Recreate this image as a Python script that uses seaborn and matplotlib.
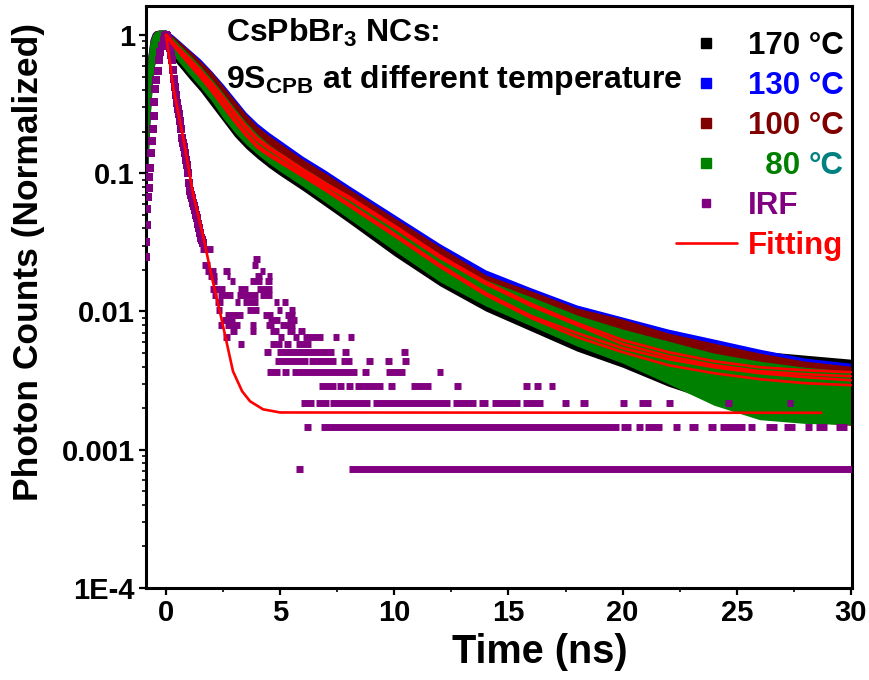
import matplotlib
matplotlib.use("Agg")
import matplotlib.pyplot as plt
import numpy as np
import pandas as pd
import seaborn as sns
from matplotlib.lines import Line2D
from matplotlib.ticker import FixedLocator, FixedFormatter, LogLocator, NullFormatter, MultipleLocator

# ---------------- data ----------------
# time knots (ns) for the measured decay bands
t_data = [-0.9, -0.8, -0.7, -0.6, -0.5, -0.3, 0.0, 0.3, 0.6, 1.0, 1.5, 2.0, 2.5, 3.0, 3.5,
          4, 4.5, 5, 6, 7, 8, 10, 12, 14, 16, 18, 20, 22, 24, 26, 28, 30]

# 170 °C : upper / lower edge of the scatter band
c170_upper = [0.276, 0.637, 0.860, 0.983, 1.034, 1.069, 1.069, 0.935, 0.818, 0.692, 0.567, 0.456,
              0.361, 0.281, 0.2185, 0.1788, 0.1538, 0.1345, 0.1047, 0.0829, 0.0656, 0.0404,
              0.0240, 0.01583, 0.01191, 0.00882, 0.00722, 0.00653, 0.00590, 0.00517, 0.00483,
              0.00452]
c170_lower = [0.0454, 0.1083, 0.2497, 0.434, 0.606, 0.778, 0.860, 0.670, 0.586, 0.487, 0.392, 0.305,
              0.2375, 0.1848, 0.1512, 0.128, 0.1101, 0.0963, 0.0749, 0.0574, 0.0439, 0.0253,
              0.01531, 0.01008, 0.00722, 0.00517, 0.00395, 0.00288, 0.00224, 0.00195, 0.00190,
              0.00183]
# 130 °C
c130_upper = [0.310, 0.704, 0.935, 1.034, 1.069, 1.087, 1.087, 1.0, 0.905, 0.791, 0.670, 0.548,
              0.441, 0.349, 0.276, 0.2297, 0.1976, 0.1729, 0.1323, 0.1047, 0.0815, 0.0502,
              0.0309, 0.0200, 0.01481, 0.01114, 0.00912, 0.00746, 0.00632, 0.00534, 0.0046,
              0.00423]
c130_lower = [0.0519, 0.1197, 0.276, 0.471, 0.658, 0.832, 0.889, 0.740, 0.658, 0.557, 0.456, 0.367,
              0.290, 0.2259, 0.1788, 0.1463, 0.1258, 0.1101, 0.0857, 0.0678, 0.0537, 0.0325,
              0.01935, 0.01253, 0.00897, 0.00642, 0.00500, 0.00358, 0.00250, 0.00200, 0.00185,
              0.00175]
# 100 °C
c100_upper = [0.310, 0.692, 0.920, 1.017, 1.069, 1.087, 1.087, 0.983, 0.889, 0.778, 0.648, 0.539,
              0.426, 0.337, 0.267, 0.2185, 0.1879, 0.1644, 0.1258, 0.0996, 0.0775, 0.0477,
              0.0294, 0.0184, 0.01409, 0.01060, 0.00882, 0.00698, 0.00590, 0.00500, 0.00437,
              0.00402]
c100_lower = [0.0537, 0.1238, 0.285, 0.471, 0.658, 0.832, 0.889, 0.728, 0.637, 0.539, 0.441, 0.355,
              0.281, 0.2185, 0.1758, 0.1463, 0.1258, 0.1101, 0.0857, 0.0656, 0.0510, 0.0309,
              0.0184, 0.01191, 0.00853, 0.00611, 0.00475, 0.00340, 0.00235, 0.00185, 0.00160,
              0.00150]
# 80 °C
c80_upper = [0.285, 0.658, 0.889, 1.0, 1.051, 1.087, 1.087, 0.951, 0.846, 0.728, 0.596, 0.479,
             0.379, 0.295, 0.2335, 0.1911, 0.1617, 0.1415, 0.1101, 0.0871, 0.0689, 0.0425,
             0.0253, 0.01693, 0.01274, 0.00943, 0.00746, 0.00611, 0.00500, 0.00437, 0.00395,
             0.00370]
c80_lower = [0.0493, 0.1138, 0.2625, 0.456, 0.637, 0.804, 0.889, 0.716, 0.626, 0.521, 0.419, 0.332,
             0.2497, 0.1976, 0.1617, 0.1368, 0.1177, 0.1029, 0.0801, 0.0613, 0.0469, 0.0275,
             0.01638, 0.01096, 0.00785, 0.00562, 0.00423, 0.00300, 0.00210, 0.00165, 0.00155,
             0.00152]

# fitted decay curves
fit_t = [0, 0.3, 0.6, 1.0, 1.5, 2.0, 2.5, 3.0, 3.5, 4, 4.5, 5, 6, 7, 8, 10, 12, 14, 16, 18, 20,
         22, 24, 26, 28, 30]
fit_130 = [1.0, 0.889, 0.791, 0.681, 0.557, 0.448, 0.355, 0.276, 0.2185, 0.1788, 0.155, 0.1368,
           0.1065, 0.0842, 0.0678, 0.0418, 0.0253, 0.01638, 0.01133, 0.00825, 0.00621, 0.00508,
           0.00437, 0.00395, 0.00376, 0.00364]
fit_100 = [1.0, 0.860, 0.765, 0.658, 0.539, 0.434, 0.343, 0.267, 0.2113, 0.1729, 0.150, 0.1323,
           0.1029, 0.0815, 0.0656, 0.0404, 0.02445, 0.01585, 0.01096, 0.00798, 0.00581, 0.00475,
           0.00409, 0.0037, 0.00352, 0.0034]
fit_80 = [1.0, 0.875, 0.765, 0.637, 0.512, 0.406, 0.316, 0.2455, 0.1943, 0.159, 0.139, 0.1238,
          0.0979, 0.0775, 0.0603, 0.0365, 0.02176, 0.01362, 0.00927, 0.00698, 0.00543, 0.00452,
          0.00395, 0.00358, 0.00335, 0.00318]
fit_170 = [1.0, 0.846, 0.740, 0.616, 0.496, 0.392, 0.305, 0.2375, 0.1879, 0.1538, 0.1345, 0.1197,
           0.0947, 0.0749, 0.0583, 0.0353, 0.02104, 0.01317, 0.00897, 0.00653, 0.00508, 0.00409,
           0.00358, 0.00324, 0.00303, 0.00293]
irf_fit_t = [0, 0.31, 0.745, 1.18, 1.62, 2.01, 2.37, 2.67, 2.93, 3.33, 3.68, 4.25, 5.0, 28.7]
irf_fit_v = [1.0, 0.42, 0.182, 0.0713, 0.0353, 0.0175, 0.00975, 0.0058, 0.0037, 0.00265, 0.00224,
             0.00196, 0.00186, 0.00185]

# IRF: photon counts, normalised by the peak count
irf_norm = 1374
irf_peak_t = [-0.88, -0.86, -0.84, -0.82, -0.80, -0.77, -0.73, -0.70, -0.66, -0.62, -0.58, -0.55,
              -0.51, -0.47, -0.42, -0.37, -0.32, -0.25, -0.18, -0.10, -0.04, 0.00, 0.05, 0.09,
              0.14, 0.18, 0.22, 0.26, 0.31, 0.35, 0.39, 0.44, 0.48, 0.53, 0.57, 0.61, 0.66, 0.70,
              0.75, 0.79, 0.83, 0.88, 0.92, 0.96, 1.01, 1.05, 1.10, 1.14, 1.18, 1.23, 1.27, 1.32,
              1.36, 1.40, 1.45, 1.49, 1.53, 1.58, 1.62]
irf_peak_counts = [34, 44, 58, 76, 93, 108, 130, 151, 192, 236, 289, 357, 453, 563, 646, 756, 907,
                   1030, 1140, 1264, 1346, 1374, 1360, 1305, 1209, 1099, 989, 907, 769, 660, 577,
                   508, 440, 398, 371, 330, 289, 247, 227, 213, 191, 172, 158, 137, 117, 103, 96,
                   91, 84, 80, 74, 69, 65, 59, 55, 51, 47, 45, 43]
# runs of consecutive IRF channels (start ns, end ns) sharing the same low count
irf_runs = {
    1: [(5.69, 6.00), (8.02, 30.2)],
    2: [(6.04, 6.35), (6.79, 19.84), (19.93, 20.37), (20.59, 20.89), (20.98, 21.73), (22.21, 22.51),
        (22.91, 23.30), (23.74, 24.09), (24.26, 25.36), (25.50, 25.80), (26.28, 26.76),
        (27.07, 27.55), (27.99, 28.29), (28.47, 28.95), (29.34, 29.82)],
    3: [(5.91, 6.48), (6.57, 7.14), (7.18, 8.94), (9.07, 12.44), (12.57, 13.58), (13.71, 14.10),
        (14.28, 15.51), (15.64, 16.51), (17.35, 17.65), (18.13, 18.48), (19.89, 20.19),
        (20.72, 21.24), (21.90, 22.21), (24.48, 24.79), (27.20, 27.46)],
    4: [(6.70, 7.45), (7.49, 7.80), (7.88, 8.19), (8.28, 9.50), (9.72, 10.03), (10.73, 11.61),
        (12.61, 12.92), (15.64, 15.94), (16.12, 16.43), (16.78, 17.04)],
    5: [(4.42, 4.99), (5.08, 5.39), (5.52, 8.37), (8.59, 8.89), (9.64, 10.47), (11.87, 12.15)],
    6: [(4.77, 6.22), (6.26, 7.45), (7.67, 8.15), (8.76, 9.07), (9.59, 9.90), (10.34, 10.64)],
    7: [(4.29, 4.60), (4.86, 7.36), (7.71, 8.02), (10.29, 10.60)],
    8: [(3.15, 3.42), (4.56, 5.08), (5.17, 5.48), (5.69, 6.35)],
    9: [(2.50, 2.80), (4.91, 5.17), (5.56, 5.83), (6.00, 6.88), (7.31, 7.58), (7.97, 8.23)],
    10: [(2.80, 3.11), (3.68, 3.94), (4.56, 4.95), (5.30, 5.65), (5.78, 6.09)],
    11: [(2.28, 2.50), (2.58, 3.24), (3.68, 3.94), (4.38, 4.73), (4.99, 5.65)],
    12: [(2.45, 3.02), (4.47, 4.99), (5.30, 5.74)],
    13: [(2.58, 3.37), (4.25, 4.69), (5.21, 5.65)],
    14: [(2.19, 2.45), (3.55, 4.07), (4.86, 5.08), (5.39, 5.65)],
    16: [(2.15, 2.50), (3.02, 3.24), (3.37, 4.03), (4.73, 4.95), (5.08, 5.34)],
    18: [(2.02, 2.23), (2.28, 2.93), (3.11, 4.03), (4.12, 4.64)],
    20: [(1.93, 2.58), (3.15, 3.59), (3.99, 4.64)],
    23: [(2.06, 2.23), (2.80, 3.02), (3.68, 4.20), (4.34, 4.64)],
    25: [(1.84, 2.23), (2.67, 2.80), (3.90, 4.20), (4.42, 4.64)],
    27: [(1.71, 2.19), (2.50, 2.80), (4.12, 4.34)],
    30: [(1.58, 1.93), (3.77, 4.03)],
    33: [(3.81, 4.12)],
    39: [(1.49, 2.06)],
}

series_colors = ["#000000", "#0000FF", "#800000", "#008000"]
irf_color = "#800080"
fit_color = "#FF0000"
teal = "#008080"

# ---------------- style ----------------
sns.set_theme(style="ticks")
plt.rcParams.update({
    "font.family": ["Liberation Sans", "DejaVu Sans"],
    "font.weight": "bold",
    "axes.labelweight": "bold",
    "mathtext.fontset": "custom",
    "mathtext.rm": "Liberation Sans:bold",
    "mathtext.it": "Liberation Sans:italic:bold",
    "mathtext.bf": "Liberation Sans:bold",
    "mathtext.default": "rm",
    "axes.linewidth": 2.2,
    "axes.edgecolor": "black",
    "text.color": "black",
    "axes.labelcolor": "black",
    "xtick.color": "black",
    "ytick.color": "black",
    "figure.facecolor": "white",
    "axes.facecolor": "white",
})

fig = plt.figure(figsize=(8.7, 6.8), dpi=100)
ax = fig.add_axes([146 / 870, 1 - 588 / 680, 706 / 870, 582 / 680])
ax.set_yscale("log")

# measured decays (dense square markers -> solid bands)
bands = [(c170_lower, c170_upper), (c130_lower, c130_upper),
         (c100_lower, c100_upper), (c80_lower, c80_upper)]
for (lo, up), col in zip(bands, series_colors):
    ax.fill_between(t_data, lo, up, color=col, linewidth=0, zorder=2)

# IRF
for n, runs in irf_runs.items():
    lvl = n / irf_norm
    ax.hlines([lvl] * len(runs), [r[0] for r in runs], [r[1] for r in runs],
              colors=irf_color, linewidth=5.0, capstyle="butt", zorder=3)
irf_df = pd.DataFrame({"t": irf_peak_t, "v": np.array(irf_peak_counts) / irf_norm})
sns.scatterplot(data=irf_df, x="t", y="v", ax=ax, marker="s", s=27, color=irf_color,
                linewidth=0, zorder=3, legend=False)

# fits
fit_df = pd.concat([
    pd.DataFrame({"t": fit_t, "v": fit_170, "curve": "170"}),
    pd.DataFrame({"t": fit_t, "v": fit_130, "curve": "130"}),
    pd.DataFrame({"t": fit_t, "v": fit_100, "curve": "100"}),
    pd.DataFrame({"t": fit_t, "v": fit_80, "curve": "80"}),
    pd.DataFrame({"t": irf_fit_t, "v": irf_fit_v, "curve": "irf"}),
], ignore_index=True)
sns.lineplot(data=fit_df, x="t", y="v", units="curve", estimator=None, color=fit_color,
             linewidth=1.9, ax=ax, zorder=4, legend=False)

# axes
ax.set_xlim(-0.88, 30.05)
ax.set_ylim(1e-4, 1.62)
ax.xaxis.set_major_locator(FixedLocator([0, 5, 10, 15, 20, 25, 30]))
ax.xaxis.set_minor_locator(MultipleLocator(2.5))
ax.yaxis.set_major_locator(FixedLocator([1e-4, 1e-3, 1e-2, 1e-1, 1]))
ax.yaxis.set_major_formatter(FixedFormatter(["1E-4", "0.001", "0.01", "0.1", "1"]))
ax.yaxis.set_minor_locator(LogLocator(base=10, subs=np.arange(2, 10) * 1.0, numticks=20))
ax.yaxis.set_minor_formatter(NullFormatter())
ax.tick_params(axis="both", which="major", direction="out", length=5, width=1.6,
               labelsize=21, pad=3)
ax.tick_params(axis="both", which="minor", direction="out", length=3, width=1.2)
ax.tick_params(top=False, right=False, which="both")
for lab in ax.get_xticklabels() + ax.get_yticklabels():
    lab.set_fontweight("bold")
for sp in ax.spines.values():
    sp.set_visible(True)
    sp.set_linewidth(2.2)

ax.set_xlabel("Time (ns)", fontsize=28.5, fontweight="bold")
ax.set_ylabel("Photon Counts (Normalized)", fontsize=25.5, fontweight="bold")
ax.xaxis.set_label_coords(0.558, -0.0775)
ax.yaxis.set_label_coords(-0.143, 0.56)

# annotation
ax.text(0.113, 0.938, r"CsPbBr$_3$ NCs:", transform=ax.transAxes, fontsize=23,
        fontweight="bold", va="baseline", ha="left")
ax.text(0.113, 0.859, r"9S$_{CPB}$ at different temperature", transform=ax.transAxes,
        fontsize=23, fontweight="bold", va="baseline", ha="left")

# legend
leg_size = 22.5
handles = [Line2D([], [], ls="none", marker="s", ms=7.9, color=c, mec=c) for c in series_colors]
handles.append(Line2D([], [], ls="none", marker="s", ms=5.6, color=irf_color, mec=irf_color))
handles.append(Line2D([], [], color=fit_color, lw=1.9))
labels = ["170 °C", "130 °C", "100 °C", "  80", "IRF", "Fitting"]
leg = ax.legend(handles, labels, loc="upper left", bbox_to_anchor=(0.7507, 0.957),
                frameon=False, borderpad=0, borderaxespad=0, handlelength=1.95,
                handletextpad=0.36, labelspacing=0.32,
                prop={"size": leg_size, "weight": "bold"},
                labelcolor=series_colors + [irf_color, fit_color])
fig.canvas.draw()
t80 = leg.get_texts()[3]
ax.annotate("°C", xy=(1, 0), xycoords=t80, xytext=(0.278 * leg_size, 0),
            textcoords="offset points", ha="left", va="bottom", color=teal,
            fontsize=leg_size, fontweight="bold", annotation_clip=False)

fig.savefig("out.png", dpi=100)
